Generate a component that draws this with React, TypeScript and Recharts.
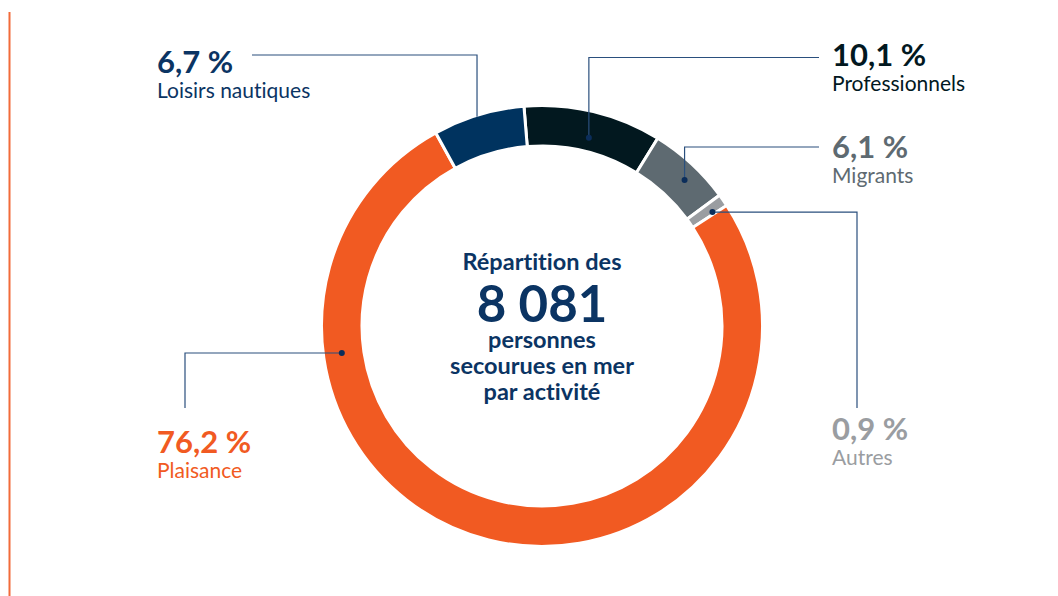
import React from 'react';
import { PieChart, Pie, Cell } from 'recharts';

const categories = ['Professionnels', 'Migrants', 'Autres', 'Plaisance', 'Loisirs nautiques'];
const shares = [10.1, 6.1, 0.9, 76.2, 6.7];
const percentLabels = ['10,1 %', '6,1 %', '0,9 %', '76,2 %', '6,7 %'];
const totalLabel = '8 081';
const titleTop = 'Répartition des';
const titleBottom = ['personnes', 'secourues en mer', 'par activité'];

const sliceColors = ['#02181F', '#5E6A71', '#9A9DA1', '#F15A22', '#00335F'];
const labelColors = ['#02181F', '#5E6A71', '#9A9DA1', '#F15A22', '#0B3463'];
const NAVY = '#0B3463';
const LEADER = '#2A4F7D';
const FONT = 'Lato, "Open Sans", sans-serif';
const noLig = { fontVariantLigatures: 'none' as const, fontFeatureSettings: '"liga" 0' };

const CX = 542;
const CY = 326;

type Leader = {
  dotR: number;
  angleShift: number;
  dot: boolean;
  route: 'up' | 'side';
  lineY?: number;
  lineEndX?: number;
  lineX?: number;
  lineEndY?: number;
  textX: number;
  pctY: number;
};

const leaderLayout: Leader[] = [
  { dotR: 194, angleShift: -0.5, dot: true, route: 'up', lineY: 57.5, lineEndX: 819, textX: 832, pctY: 66 },
  { dotR: 204, angleShift: -1.7, dot: true, route: 'up', lineY: 147, lineEndX: 819, textX: 832, pctY: 157.5 },
  { dotR: 205, angleShift: -1, dot: true, route: 'side', lineX: 857, lineEndY: 408, textX: 832, pctY: 440 },
  { dotR: 202, angleShift: -68.3, dot: true, route: 'side', lineX: 185, lineEndY: 408, textX: 157, pctY: 453 },
  { dotR: 219, angleShift: 0.5, dot: false, route: 'up', lineY: 55, lineEndX: 252, textX: 157, pctY: 73 },
];

const data = categories.map((name, i) => ({ name, value: shares[i] }));

const RAD = Math.PI / 180;

const renderLabel = (props: any) => {
  const { cx, cy, midAngle, index } = props;
  const L = leaderLayout[index];
  const a = (midAngle + L.angleShift) * RAD;
  const px = cx + L.dotR * Math.cos(-a);
  const py = cy + L.dotR * Math.sin(-a);
  let points: string;
  if (L.route === 'up') {
    points = `${px},${py} ${px},${L.lineY} ${L.lineEndX},${L.lineY}`;
  } else {
    points = `${px},${py} ${L.lineX},${py} ${L.lineX},${L.lineEndY}`;
  }
  return (
    <g key={`lbl-${index}`}>
      <polyline points={points} fill="none" stroke={LEADER} strokeWidth={1.2} />
      {L.dot && <circle cx={px} cy={py} r={3} fill="#0B2D5A" />}
      <text x={L.textX} y={L.pctY} fill={labelColors[index]} fontFamily={FONT} fontWeight={700} fontSize={31} style={noLig}>
        {percentLabels[index]}
      </text>
      <text x={L.textX} y={L.pctY + 25} fill={labelColors[index]} fontFamily={FONT} fontWeight={400} fontSize={21} style={noLig}>
        {categories[index]}
      </text>
    </g>
  );
};

export default function App() {
  return (
    <div style={{ position: 'absolute', left: 0, top: 0, width: 1058, height: 596, background: '#fff' }}>
      <PieChart width={1058} height={596} margin={{ top: 0, right: 0, bottom: 0, left: 0 }}>
        <line x1={9.5} y1={12} x2={9.5} y2={596} stroke="#F26B3A" strokeWidth={2} />
        <Pie
          data={data}
          dataKey="value"
          nameKey="name"
          cx={CX}
          cy={CY}
          innerRadius={180}
          outerRadius={220.5}
          startAngle={94.7}
          endAngle={-265.3}
          stroke="#ffffff"
          strokeWidth={3}
          label={renderLabel}
          labelLine={false}
          isAnimationActive={false}
        >
          {data.map((d, i) => (
            <Cell key={d.name} fill={sliceColors[i]} />
          ))}
        </Pie>
        <text x={CX} y={270} textAnchor="middle" fill={NAVY} fontFamily={FONT} fontWeight={700} fontSize={23.5} style={noLig}>
          {titleTop}
        </text>
        <text x={CX} y={321.5} textAnchor="middle" fill={NAVY} fontFamily={FONT} fontWeight={700} fontSize={51} style={noLig}>
          {totalLabel}
        </text>
        {titleBottom.map((t, i) => (
          <text key={t} x={CX} y={348 + i * 26} textAnchor="middle" fill={NAVY} fontFamily={FONT} fontWeight={700} fontSize={23.5} style={noLig}>
            {t}
          </text>
        ))}
      </PieChart>
    </div>
  );
}
